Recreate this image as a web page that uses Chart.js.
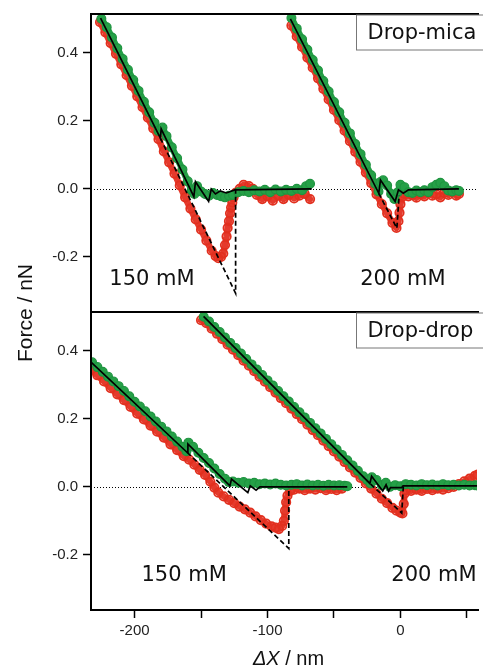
<!DOCTYPE html>
<html><head><meta charset="utf-8">
<script src="https://cdn.jsdelivr.net/npm/chart.js@4/dist/chart.umd.min.js"></script>
<style>html,body{margin:0;padding:0;background:#fff;overflow:hidden}
#wrap{position:relative;width:483px;height:668px}</style>
</head><body><div id="wrap"><canvas id="c"></canvas></div>
<script>
// ---------- tick labels / text ----------
const xTicks = [-200, -150, -100, -50, 0, 50];
const xLabeled = [-200, -100, 0];
const yTicks = [-0.2, 0.0, 0.2, 0.4];
const panelNames = ['Drop-mica', 'Drop-drop'];
const concLabels = ['150 mM', '200 mM'];

// ---------- Drop-mica (top panel), [ΔX nm, Force nN] ----------
const micaRed150 = [[-226,0.49],[-222,0.46],[-218,0.428],[-214,0.397],[-210,0.366],[-206,0.334],[-202,0.303],[-198,0.272],[-194,0.24],[-190,0.209],[-186,0.178],[-182,0.146],[-178,0.11],[-174,0.078],[-170,0.045],[-166,0.01],[-162,-0.025],[-158,-0.058],[-154,-0.09],[-150,-0.12],[-146,-0.152],[-142,-0.182],[-139,-0.198],[-137,-0.204],[-135,-0.2],[-133.3,-0.19],[-132,-0.165],[-130.8,-0.14],[-130,-0.115],[-129,-0.095],[-128.2,-0.072],[-127.4,-0.055],[-126.5,-0.04],[-125.5,-0.025],[-124,-0.012],[-121,0.0],[-118,0.012],[-114,0.008],[-111,0.0],[-108,-0.018],[-104,-0.03],[-100,-0.022],[-96,-0.035],[-92,-0.02],[-88,-0.03],[-84,-0.018],[-80,-0.028],[-76,-0.02],[-72,-0.015],[-68,-0.03]];
const micaGreen150 = [[-225,0.5],[-221,0.475],[-217,0.445],[-213,0.413],[-209,0.382],[-205,0.35],[-201,0.32],[-197,0.288],[-193,0.256],[-189,0.225],[-185,0.194],[-182,0.17],[-179,0.18],[-176,0.155],[-172,0.122],[-168,0.09],[-164,0.057],[-160,0.022],[-157,-0.005],[-155,-0.015],[-153,0.008],[-150,-0.008],[-147,-0.015],[-144,-0.02],[-141,-0.012],[-138,-0.018],[-135,-0.022],[-132,-0.025],[-129,-0.02],[-126,-0.018],[-122,-0.01],[-118,-0.006],[-114,-0.01],[-110,-0.004],[-106,-0.008],[-102,-0.003],[-98,-0.01],[-94,-0.002],[-90,-0.008],[-86,-0.003],[-82,-0.006],[-78,0.0],[-74,-0.004],[-71,0.008],[-68,0.015]];
const micaFit150 = [[-225.6,0.502],[-180.6,0.149],[-180,0.176],[-155.4,-0.023],[-154.2,0.021],[-144.3,-0.037],[-142.3,-0.001],[-139.2,-0.015],[-135.5,-0.006],[-131,-0.012],[-124.6,-0.003],[-66.7,0.0]];
const micaDash150 = [[-180.6,0.149],[-124,-0.307],[-124,0.0]];

const micaRed200 = [[-82,0.48],[-78,0.448],[-74,0.417],[-70,0.386],[-66,0.356],[-62,0.325],[-58,0.294],[-54,0.263],[-50,0.232],[-46,0.202],[-42,0.171],[-38,0.14],[-34,0.109],[-30,0.079],[-26,0.048],[-22,0.017],[-18,-0.016],[-14,-0.045],[-10,-0.072],[-6,-0.1],[-3,-0.115],[-1.5,-0.095],[-0.7,-0.07],[0,-0.045],[1,-0.025],[3,-0.015],[6,-0.022],[9,-0.018],[12,-0.026],[15,-0.015],[18,-0.022],[21,-0.012],[24,-0.02],[27,-0.016],[30,-0.025],[33,-0.012],[36,-0.018],[39,-0.01],[42,-0.02],[44,-0.015]];
const micaGreen200 = [[-82,0.502],[-78,0.471],[-74,0.44],[-70,0.409],[-66,0.379],[-62,0.348],[-58,0.317],[-54,0.286],[-50,0.255],[-46,0.225],[-42,0.194],[-38,0.163],[-34,0.132],[-30,0.102],[-26,0.071],[-22,0.04],[-19,0.015],[-16.5,-0.008],[-15,0.02],[-13,0.025],[-10,0.01],[-7,-0.015],[-4.5,-0.03],[-2,-0.01],[0,0.012],[3,0.005],[6,-0.01],[9,-0.012],[12,-0.005],[15,-0.01],[18,-0.004],[21,-0.01],[24,0.005],[27,0.012],[30,0.018],[33,0.008],[36,-0.005],[39,-0.008],[42,-0.004],[44,-0.006]];
const micaFit200 = [[-82.8,0.5],[-16.3,-0.013],[-15,0.026],[-4,-0.037],[-1.5,-0.003],[2.2,-0.013],[6,-0.003],[44,0.0]];
const micaDash200 = [[-16.3,-0.013],[-2.7,-0.116],[-1,-0.02]];

// ---------- Drop-drop (bottom panel) ----------
const dropRed150 = [[-233,0.345],[-228,0.328],[-223,0.31],[-218,0.29],[-213,0.272],[-208,0.255],[-203,0.235],[-198,0.215],[-193,0.198],[-188,0.18],[-183,0.162],[-178,0.145],[-173,0.125],[-168,0.108],[-163,0.09],[-159,0.08],[-155,0.065],[-151,0.05],[-147,0.035],[-143,0.015],[-140,-0.002],[-137,-0.017],[-133,-0.028],[-129,-0.038],[-125,-0.048],[-121,-0.058],[-117,-0.066],[-113,-0.076],[-109,-0.087],[-105,-0.098],[-101,-0.108],[-97,-0.116],[-94,-0.12],[-91.5,-0.124],[-89,-0.115],[-87.7,-0.1],[-86.8,-0.07],[-86,-0.045],[-85,-0.026],[-83,-0.012],[-80,-0.008],[-76,-0.005],[-72,-0.01],[-68,-0.005],[-64,-0.008],[-60,-0.004],[-56,-0.01],[-52,-0.006],[-48,-0.01],[-44,-0.005]];
const dropGreen150 = [[-232,0.366],[-228,0.352],[-224,0.338],[-220,0.324],[-216,0.31],[-212,0.296],[-208,0.282],[-204,0.266],[-200,0.25],[-196,0.236],[-192,0.222],[-188,0.207],[-184,0.192],[-180,0.177],[-176,0.163],[-172,0.148],[-168,0.133],[-164,0.118],[-161,0.105],[-159.5,0.13],[-156,0.118],[-152,0.1],[-148,0.085],[-144,0.07],[-140,0.054],[-136,0.038],[-132,0.024],[-129,0.014],[-126,0.016],[-122,0.012],[-118,0.014],[-114,0.01],[-110,0.012],[-106,0.008],[-102,0.01],[-98,0.007],[-94,0.01],[-90,0.006],[-86,0.004],[-82,0.006],[-78,0.008],[-74,0.004],[-70,0.007],[-66,0.004],[-62,0.006],[-58,0.003],[-54,0.006],[-50,0.004],[-46,0.005],[-42,0.003],[-40,0.002]];
const dropFit150 = [[-232.6,0.366],[-160.4,0.101],[-159.9,0.126],[-128.3,0.003],[-127.1,0.023],[-114.8,-0.017],[-113,0.003],[-108.6,-0.01],[-105.7,0.0],[-40,0.0]];
const dropDash150 = [[-160.4,0.101],[-84,-0.181],[-84,-0.003]];

const dropRed200 = [[-150,0.49],[-146,0.481],[-142,0.465],[-138,0.45],[-134,0.434],[-130,0.418],[-126,0.403],[-122,0.387],[-118,0.371],[-114,0.356],[-110,0.34],[-106,0.324],[-102,0.309],[-98,0.293],[-94,0.277],[-90,0.261],[-86,0.246],[-82,0.23],[-78,0.214],[-74,0.199],[-70,0.183],[-66,0.167],[-62,0.152],[-58,0.136],[-54,0.12],[-50,0.104],[-46,0.089],[-42,0.073],[-38,0.057],[-34,0.042],[-30,0.026],[-26,0.01],[-22,-0.005],[-18,-0.02],[-14,-0.035],[-10,-0.048],[-6,-0.062],[-3,-0.07],[0,-0.076],[1.5,-0.078],[2.5,-0.05],[3,-0.02],[4,-0.01],[8,-0.012],[12,-0.008],[16,-0.012],[20,-0.006],[24,-0.01],[28,-0.005],[32,-0.008],[36,-0.004],[40,0.0],[44,0.008],[48,0.016],[52,0.024],[56,0.032],[58,0.036]];
const dropGreen200 = [[-148,0.5],[-144,0.486],[-140,0.47],[-136,0.455],[-132,0.439],[-128,0.423],[-124,0.408],[-120,0.392],[-116,0.376],[-112,0.36],[-108,0.345],[-104,0.329],[-100,0.313],[-96,0.298],[-92,0.282],[-88,0.266],[-84,0.251],[-80,0.235],[-76,0.219],[-72,0.204],[-68,0.188],[-64,0.172],[-60,0.157],[-56,0.141],[-52,0.125],[-48,0.11],[-44,0.094],[-40,0.078],[-36,0.063],[-32,0.047],[-28,0.031],[-25,0.02],[-22.5,0.01],[-21.5,0.028],[-18,0.02],[-14,0.005],[-11,0.012],[-8,0.0],[-4,0.005],[0,0.002],[4,0.008],[8,0.006],[12,0.004],[16,0.008],[20,0.005],[24,0.007],[28,0.004],[32,0.008],[36,0.005],[40,0.006],[44,0.004],[48,0.006],[52,0.004],[56,0.005],[58,0.004]];
const dropFit200 = [[-148.1,0.501],[-23,0.01],[-21.7,0.031],[-13.3,-0.012],[-10.8,0.006],[-8.9,-0.012],[-7.5,-0.002],[1,-0.002],[2,0.003],[60,0.003]];
const dropDash200 = [[-22.4,0.008],[1,-0.077],[2.2,0.003]];

// ---------- styling / layout ----------
const RED = '#e53a2c', RED_RING = '#e2301f', GREEN = '#25a047', GREEN_RING = '#1f9440';
const X_MIN = -232.8, X_MAX = 57.6, Y_MIN = -0.362, Y_MAX = 0.514;
const labelPos = { // data coordinates of annotation text (left, baseline)
  yTop: [[-219, -0.284], [-30.3, -0.284]],
  yBot: [[-194.8, -0.276], [-6.9, -0.276]]
};
const boxX = -33.5;

const pts = a => a.map(([x, y]) => ({x, y}));
function redSet(d, ax){ return {data: pts(d), yAxisID: ax, showLine: true, borderColor: RED, borderWidth: 6.5, borderJoinStyle:'round', borderCapStyle:'round', pointRadius: 4.2, pointBorderWidth: 1.8, pointBorderColor: RED_RING, pointBackgroundColor: 'rgba(255,255,255,0)', order: 3}; }
function greenSet(d, ax){ return {data: pts(d), yAxisID: ax, showLine: true, borderColor: GREEN, borderWidth: 6.5, borderJoinStyle:'round', borderCapStyle:'round', pointRadius: 4.4, pointBorderWidth: 1.2, pointBorderColor: GREEN_RING, pointBackgroundColor: GREEN, order: 2}; }
function fitSet(d, ax){ return {data: pts(d), yAxisID: ax, showLine: true, borderColor: '#000', borderWidth: 1.7, pointRadius: 0, order: 1}; }
function dashSet(d, ax){ return {data: pts(d), yAxisID: ax, showLine: true, borderColor: '#000', borderWidth: 1.7, borderDash: [5, 3], pointRadius: 0, order: 0}; }

const datasets = [
  redSet(micaRed150,'yTop'), redSet(micaRed200,'yTop'), redSet(dropRed150,'yBot'), redSet(dropRed200,'yBot'),
  greenSet(micaGreen150,'yTop'), greenSet(micaGreen200,'yTop'), greenSet(dropGreen150,'yBot'), greenSet(dropGreen200,'yBot'),
  fitSet(micaFit150,'yTop'), fitSet(micaFit200,'yTop'), fitSet(dropFit150,'yBot'), fitSet(dropFit200,'yBot'),
  dashSet(micaDash150,'yTop'), dashSet(micaDash200,'yTop'), dashSet(dropDash150,'yBot'), dashSet(dropDash200,'yBot')
];

const tickFont = {family: '"Liberation Sans", Arial, sans-serif', size: 15};
function yAxis(weight){
  return {
    type: 'linear', position: 'left', stack: 'panels', stackWeight: 1, weight: weight,
    min: Y_MIN, max: Y_MAX,
    afterBuildTicks: s => { s.ticks = yTicks.map(v => ({value: v})); },
    afterFit: s => { s.width = 91; },
    ticks: {font: tickFont, color: '#222', padding: 5, callback: v => v.toFixed(1)},
    grid: {drawOnChartArea: false, drawTicks: true, tickLength: 8, tickColor: '#000', tickWidth: 1.5, color: '#000'},
    border: {display: false}
  };
}

const deco = {
  id: 'deco',
  beforeDatasetsDraw(chart){
    const {ctx, chartArea: a} = chart;
    ['yTop','yBot'].forEach(id => {
      const y = Math.round(chart.scales[id].getPixelForValue(0)) + 0.5;
      ctx.save(); ctx.setLineDash([1, 2]); ctx.lineWidth = 1; ctx.strokeStyle = '#000';
      ctx.beginPath(); ctx.moveTo(a.left, y); ctx.lineTo(a.right, y); ctx.stroke(); ctx.restore();
    });
  },
  afterDraw(chart){
    const {ctx, chartArea: a, scales} = chart;
    const xs = scales.x;
    ctx.save();
    // frames
    ctx.strokeStyle = '#000'; ctx.lineWidth = 2;
    ctx.beginPath();
    [scales.yTop.top, scales.yTop.bottom, scales.yBot.bottom].forEach(y => { ctx.moveTo(a.left - 1, y); ctx.lineTo(a.right + 2, y); });
    ctx.moveTo(a.left, a.top); ctx.lineTo(a.left, a.bottom);
    ctx.stroke();
    // panel name boxes + concentration labels
    ['yTop','yBot'].forEach((id, i) => {
      const s = scales[id];
      const bx = Math.round(xs.getPixelForValue(boxX)) + 0.5;
      ctx.lineWidth = 1; ctx.strokeStyle = '#777';
      ctx.strokeRect(bx, s.top + 1, 200, 35);
      ctx.fillStyle = '#111'; ctx.font = '21px "DejaVu Sans", sans-serif';
      ctx.textAlign = 'left'; ctx.textBaseline = 'alphabetic';
      ctx.fillText(panelNames[i], bx + 11, s.top + 25);
      labelPos[id].forEach(([lx, ly], j) => {
        ctx.fillText(concLabels[j], xs.getPixelForValue(lx), s.getPixelForValue(ly));
      });
    });
    // axis titles
    ctx.fillStyle = '#111';
    ctx.font = '21px "Liberation Sans", Arial, sans-serif';
    ctx.save();
    ctx.translate(32, (a.top + a.bottom) / 2 + 1);
    ctx.rotate(-Math.PI / 2);
    ctx.textAlign = 'center'; ctx.textBaseline = 'alphabetic';
    ctx.fillText('Force / nN', 0, 0);
    ctx.restore();
    const it = 'italic 20px "Liberation Sans", Arial, sans-serif', nt = '20px "Liberation Sans", Arial, sans-serif';
    ctx.font = it; const w1 = ctx.measureText('ΔX').width;
    ctx.font = nt; const w2 = ctx.measureText(' / nm').width;
    const cx = 288.5, x0 = cx - (w1 + w2) / 2;
    ctx.textAlign = 'left'; ctx.textBaseline = 'alphabetic';
    ctx.font = it; ctx.fillText('ΔX', x0, 665);
    ctx.font = nt; ctx.fillText(' / nm', x0 + w1, 665);
    ctx.restore();
  }
};

new Chart(document.getElementById('c'), {
  type: 'scatter',
  data: {datasets},
  options: {
    responsive: true, maintainAspectRatio: false, animation: false,
    layout: {padding: {top: 14, right: 0, bottom: 0, left: 0}},
    plugins: {legend: {display: false}, tooltip: {enabled: false}},
    scales: {
      x: {
        type: 'linear', position: 'bottom', min: X_MIN, max: X_MAX,
        afterBuildTicks: s => { s.ticks = xTicks.map(v => ({value: v})); },
        afterFit: s => { s.height = 58; },
        ticks: {font: tickFont, color: '#222', padding: 4, maxRotation: 0,
                callback: v => xLabeled.includes(v) ? String(v) : ''},
        grid: {drawOnChartArea: false, drawTicks: true, tickLength: 8, tickColor: '#000', tickWidth: 1.5, color: '#000'},
        border: {display: false}
      },
      yBot: yAxis(1),
      yTop: yAxis(2)
    }
  },
  plugins: [deco]
});
</script>
</body></html>
